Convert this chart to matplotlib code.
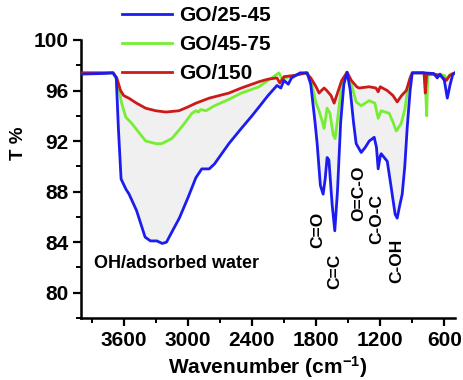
import matplotlib
matplotlib.use("Agg")
import matplotlib.pyplot as plt
import numpy as np
from matplotlib.ticker import MultipleLocator

plt.rcParams["font.family"] = ["Liberation Sans", "DejaVu Sans"]
plt.rcParams["mathtext.fontset"] = "custom"
plt.rcParams["mathtext.rm"] = "Liberation Sans:bold"
plt.rcParams["mathtext.bf"] = "Liberation Sans:bold"
plt.rcParams["mathtext.default"] = "bf"

# ---- data ----
blue_x = [4000, 3800, 3700, 3670, 3650, 3625, 3580, 3550, 3480, 3400, 3350, 3290, 3240, 3200,
          3150, 3080, 3000, 2925, 2870, 2800, 2750, 2700, 2616, 2500, 2400, 2334, 2250, 2166,
          2130, 2100, 2060, 2030, 1988, 1950, 1884, 1850, 1810, 1790, 1760, 1734, 1715, 1697,
          1680, 1650, 1625, 1600, 1570, 1540, 1510, 1480, 1450, 1425, 1378, 1340, 1303, 1256,
          1235, 1219, 1200, 1191, 1134, 1100, 1088, 1060, 1041, 1020, 994, 970, 947, 920, 900,
          800, 700, 666, 640, 600, 572, 545, 520, 500]
blue_y = [97.3, 97.35, 97.4, 97.0, 93.0, 89.0, 88.2, 87.8, 86.5, 84.4, 84.1, 84.1, 83.9, 84.0,
          84.8, 85.9, 87.5, 89.1, 89.8, 89.8, 90.2, 90.8, 91.8, 93.0, 94.0, 94.7, 95.6, 96.4,
          96.2, 96.8, 96.5, 97.0, 97.2, 97.4, 97.4, 96.5, 93.5, 91.8, 88.5, 87.8, 89.0, 90.7,
          90.5, 87.0, 84.9, 88.0, 93.5, 96.5, 97.45, 96.0, 93.5, 91.8, 91.1, 91.5, 92.0, 92.3,
          91.5, 89.8, 90.8, 91.0, 90.4, 88.5, 87.8, 86.2, 85.9, 86.8, 87.8, 90.0, 93.1, 96.0, 97.4,
          97.4, 97.35, 97.0, 97.3, 96.8, 95.4, 96.5, 97.3, 97.4]

green_x = [4000, 3700, 3660, 3620, 3581, 3525, 3460, 3394, 3300, 3244, 3150, 3050, 2962, 2925,
           2900, 2880, 2831, 2750, 2616, 2500, 2334, 2250, 2147, 2120, 2050, 1950, 1880, 1840,
           1800, 1772, 1740, 1725, 1697, 1670, 1640, 1622, 1595, 1560, 1510, 1470, 1425, 1378,
           1340, 1303, 1250, 1219, 1191, 1116, 1080, 1050, 1003, 970, 947, 920, 900, 790, 775,
           765, 755, 700, 600, 575, 540, 500]
green_y = [97.4, 97.4, 96.8, 95.0, 93.9, 93.4, 92.7, 92.0, 91.8, 91.8, 92.2, 93.2, 94.2, 94.4,
           94.3, 94.5, 94.4, 94.8, 95.3, 95.8, 96.3, 96.8, 97.4, 96.9, 97.1, 97.3, 97.4, 96.5,
           95.0, 94.4, 93.5, 93.0, 94.6, 94.2, 92.5, 92.2, 94.0, 96.5, 97.45, 96.5, 95.1, 94.8,
           95.0, 95.2, 95.0, 93.8, 94.4, 94.2, 93.5, 92.8, 93.4, 94.5, 95.8, 97.0, 97.4, 97.4, 96.0,
           94.0, 97.2, 97.3, 97.2, 96.9, 97.3, 97.4]

red_x = [4000, 3700, 3665, 3630, 3600, 3553, 3480, 3394, 3300, 3206, 3084, 3000, 2925, 2800,
         2616, 2500, 2334, 2250, 2166, 2140, 2100, 2000, 1894, 1850, 1800, 1772, 1750, 1725,
         1700, 1660, 1631, 1600, 1560, 1510, 1470, 1420, 1397, 1303, 1240, 1219, 1200, 1134,
         1080, 1041, 1000, 956, 920, 900, 790, 778, 765, 700, 640, 581, 550, 500]
red_y = [97.4, 97.4, 97.0, 96.0, 95.6, 95.4, 95.0, 94.6, 94.4, 94.3, 94.4, 94.7, 95.0, 95.4,
         95.8, 96.2, 96.7, 96.9, 97.0, 96.6, 97.1, 97.2, 97.4, 97.0, 96.3, 95.8, 96.0, 96.2,
         96.0, 95.6, 95.0, 95.8, 96.8, 97.45, 96.8, 96.3, 96.2, 96.3, 96.2, 95.9, 96.3, 96.0,
         95.6, 95.1, 95.6, 96.0, 97.0, 97.4, 97.4, 95.8, 97.3, 97.3, 97.2, 96.8, 97.2, 97.4]

labels = ["GO/25-45", "GO/45-75", "GO/150"]
colors = ["#1c1cf0", "#77ee33", "#cc1a1a"]

annotations = [("C=O", 1781, 85.0), ("C=C", 1622, 81.7), ("O=C-O", 1397, 87.9),
               ("C-O-C", 1228, 85.8), ("C-OH", 1041, 82.5)]

x_ticks = [3600, 3000, 2400, 1800, 1200, 600]
y_ticks = [80, 84, 88, 92, 96, 100]

# ---- figure ----
fig = plt.figure(figsize=(4.64, 3.80), dpi=100)
ax = fig.add_axes([81/464, 1 - 318/380, (455 - 81)/464, (318 - 40)/380])

# shaded region between blue and red
poly_x = np.concatenate([blue_x, red_x[::-1]])
poly_y = np.concatenate([blue_y, red_y[::-1]])
ax.fill(poly_x, poly_y, color="#f0f0f0", lw=0, zorder=1)

ax.plot(blue_x, blue_y, color=colors[0], lw=2.0, label=labels[0], zorder=3)
ax.plot(green_x, green_y, color=colors[1], lw=2.0, label=labels[1], zorder=2.5)
ax.plot(red_x, red_y, color=colors[2], lw=2.0, label=labels[2], zorder=2.8)

ax.set_xlim(4000, 500)
ax.set_ylim(78, 100)
ax.set_xticks(x_ticks)
ax.set_yticks(y_ticks)
ax.xaxis.set_minor_locator(MultipleLocator(300))
ax.yaxis.set_minor_locator(MultipleLocator(2))
for s in ["top", "right"]:
    ax.spines[s].set_visible(False)
for s in ["left", "bottom"]:
    ax.spines[s].set_linewidth(1.8)
ax.tick_params(axis="both", which="major", direction="out", length=6, width=1.6,
               labelsize=15, pad=3)
ax.tick_params(axis="both", which="minor", direction="out", length=3.5, width=1.4)
for lab in ax.get_xticklabels() + ax.get_yticklabels():
    lab.set_fontweight("bold")

ax.set_xlabel("Wavenumber (cm$^{-1}$)", fontsize=15, fontweight="bold", labelpad=3)
ax.set_ylabel("T %", fontsize=13.5, fontweight="bold")
ax.yaxis.set_label_coords(-0.145, 0.63)

for txt, xx, yy in annotations:
    ax.text(xx, yy, txt, rotation=90, ha="center", va="center", fontsize=12.5,
            fontweight="bold")
ax.text(3881, 82.3, "OH/adsorbed water", ha="left", va="center", fontsize=13,
        fontweight="bold")

fig.legend(loc="upper left", bbox_to_anchor=(122/464, 1 - 6/380), frameon=False,
           borderaxespad=0, borderpad=0, handlelength=2.4, handletextpad=0.35,
           labelspacing=0.48, prop={"size": 15, "weight": "bold"})

fig.savefig("out.png", dpi=100)
